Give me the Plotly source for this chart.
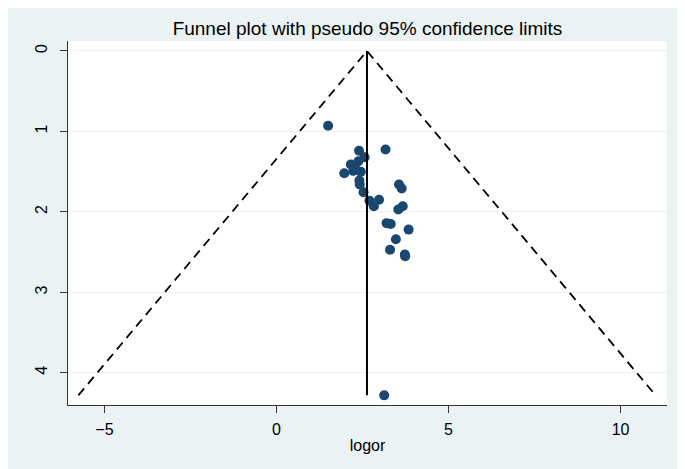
import plotly.graph_objects as go

# study estimates: log odds ratio and its standard error
logor = [1.50, 2.40, 3.17, 2.56, 2.16, 2.38, 2.28, 2.45, 2.23, 1.97,
         2.41, 2.42, 2.53, 3.56, 3.64, 2.70, 2.98, 2.83, 3.67, 3.54,
         3.20, 3.32, 3.84, 3.47, 3.30, 3.73, 3.74, 3.13]
se = [0.93, 1.24, 1.225, 1.32, 1.41, 1.37, 1.45, 1.50, 1.49, 1.52,
      1.61, 1.66, 1.755, 1.66, 1.71, 1.86, 1.85, 1.93, 1.93, 1.97,
      2.14, 2.15, 2.22, 2.34, 2.47, 2.53, 2.55, 4.28]

pooled = 2.63
se_max = 4.28
funnel_x = [pooled - 1.96 * se_max, pooled, pooled + 1.96 * se_max]
funnel_y = [se_max, 0, se_max]

BG = "#EAF2F3"
FONT = "Liberation Sans, Arial, sans-serif"

fig = go.Figure()
fig.add_trace(go.Scatter(
    x=logor, y=se, mode="markers",
    marker=dict(color="#1A476F", size=10),
))
fig.add_trace(go.Scatter(
    x=[pooled, pooled], y=[0, se_max], mode="lines",
    line=dict(color="black", width=2),
))
fig.add_trace(go.Scatter(
    x=funnel_x, y=funnel_y, mode="lines",
    line=dict(color="black", width=1.8, dash="9px,6px"),
))

# page body has an 8px margin, so margins are shifted accordingly
fig.update_layout(
    width=685, height=469,
    margin=dict(l=60, r=26, t=33, b=72),
    paper_bgcolor=BG, plot_bgcolor="white",
    showlegend=False,
    font=dict(family=FONT, size=16, color="black"),
    title=dict(text="Funnel plot with pseudo 95% confidence limits",
               x=359.5 / 685, xanchor="center", y=1 - 20 / 469,
               yanchor="middle", font=dict(size=19)),
)
fig.update_xaxes(
    range=[-6.06, 11.35], tickvals=[-5, 0, 5, 10], showgrid=False,
    zeroline=False, showline=True, linecolor="#333333", linewidth=1.2,
    ticks="outside", ticklen=7, tickcolor="#333333", ticklabelstandoff=3,
    title=dict(text="logor", standoff=2, font=dict(size=16)),
)
fig.update_yaxes(
    range=[4.40, -0.124], tickvals=[0, 1, 2, 3, 4], tickangle=-90,
    showgrid=True, gridcolor=BG, gridwidth=1.2,
    zeroline=False, showline=True, linecolor="#333333", linewidth=1.2,
    ticks="outside", ticklen=7, tickcolor="#333333", ticklabelstandoff=7,
)

fig.write_html("out.html")
